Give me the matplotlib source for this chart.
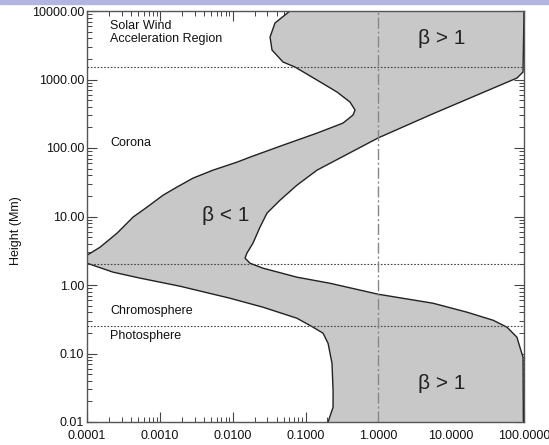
import numpy as np
import matplotlib
matplotlib.use("Agg")
from matplotlib import pyplot as plt
from matplotlib.patches import Rectangle
from matplotlib.ticker import FixedLocator, FixedFormatter, LogLocator, NullFormatter

plt.rcParams['font.family'] = ['Liberation Sans', 'DejaVu Sans']

# left (low beta) boundary, read top to bottom
h_left = [10000, 6680, 4170, 2690, 1800, 1520, 981, 656, 469, 358, 303, 231, 165, 110,
          73.6, 62.2, 47.5, 36.3, 26.9, 20.5, 13.7, 9.8, 5.7, 3.56, 2.72, 2.38, 2.08,
          1.54, 1.26, 0.96, 0.641, 0.474, 0.327, 0.242, 0.198, 0.141, 0.0721, 0.029,
          0.0164, 0.01]
beta_left = [0.0612, 0.0381, 0.0326, 0.0347, 0.0491, 0.0718, 0.144, 0.271, 0.408, 0.479,
             0.449, 0.327, 0.144, 0.0491, 0.0173, 0.0115, 0.00537, 0.00285, 0.00172,
             0.00111, 0.000667, 0.000429, 0.000258, 0.000151, 0.0001, 0.000068, 0.0001,
             0.000228, 0.000535, 0.00189, 0.00918, 0.0261, 0.0764, 0.127, 0.174, 0.204,
             0.231, 0.239, 0.239, 0.204]

# right (high beta) boundary, read top to bottom
h_right = [10000, 1285, 1050, 303, 140, 47.5, 28.7, 17.3, 11.2, 6.98, 4.08, 2.92, 2.47,
           2.08, 1.76, 1.30, 1.06, 0.734, 0.542, 0.401, 0.306, 0.242, 0.173, 0.123,
           0.088, 0.01]
beta_right = [100, 97, 80, 5.13, 0.99, 0.144, 0.0764, 0.0447, 0.0296, 0.0237, 0.019,
              0.0157, 0.0148, 0.0173, 0.0261, 0.0764, 0.217, 0.99, 5.63, 16.5, 37.6,
              58.5, 80, 88, 97, 98]

region_bounds = [1500, 2, 0.25]

xticks = [1e-4, 1e-3, 1e-2, 1e-1, 1, 10, 100]
xtick_labels = ["0.0001", "0.0010", "0.0100", "0.1000", "1.0000", "10.0000", "100.0000"]
yticks = [0.01, 0.1, 1, 10, 100, 1000, 10000]
ytick_labels = ["0.01", "0.10", "1.00", "10.00", "100.00", "1000.00", "10000.00"]

fig = plt.figure(figsize=(5.49, 4.45), dpi=100)
fig.patches.append(Rectangle((0, 1 - 4 / 445), 1, 4 / 445, transform=fig.transFigure,
                             color="#b4b4e2", zorder=0))
ax = fig.add_axes([87 / 549, 1 - 422 / 445, 437 / 549, 411 / 445])

# shaded band between the two boundaries
poly_x = beta_left + beta_right[::-1]
poly_y = h_left + h_right[::-1]
ax.fill(poly_x, poly_y, color="#c8c8c8", zorder=2, linewidth=0)
ax.plot(beta_left, h_left, color="#222222", linewidth=1, zorder=3)
ax.plot(beta_right, h_right, color="#222222", linewidth=1, zorder=3)

for hb in region_bounds:
    ax.axhline(hb, color="#444444", linestyle=(0, (1.5, 1.5)), linewidth=0.8, zorder=3)
ax.axvline(1.0, color="#888888", linestyle=(0, (8, 2, 1.5, 2)), linewidth=1, zorder=3)

ax.set_xscale("log")
ax.set_yscale("log")
ax.set_xlim(1e-4, 100)
ax.set_ylim(0.01, 10000)

ax.xaxis.set_major_locator(FixedLocator(xticks))
ax.xaxis.set_major_formatter(FixedFormatter(xtick_labels))
ax.yaxis.set_major_locator(FixedLocator(yticks))
ax.yaxis.set_major_formatter(FixedFormatter(ytick_labels))
ax.xaxis.set_minor_locator(LogLocator(base=10, subs=np.arange(2, 10), numticks=20))
ax.yaxis.set_minor_locator(LogLocator(base=10, subs=np.arange(2, 10), numticks=20))
ax.xaxis.set_minor_formatter(NullFormatter())
ax.yaxis.set_minor_formatter(NullFormatter())
ax.tick_params(which="both", direction="in", top=True, right=True, color="#444444",
               labelsize=9, labelcolor="#111111")
ax.tick_params(which="major", length=7, width=0.8)
ax.tick_params(which="minor", length=3.5, width=0.7)
ax.tick_params(axis="y", pad=2)
ax.tick_params(axis="x", pad=5.5)
for s in ax.spines.values():
    s.set_color("#555555")
    s.set_linewidth(1)
    s.set_zorder(4)

ax.set_ylabel("Height (Mm)", fontsize=9, color="#111111")
ax.yaxis.set_label_coords(-0.148, 0.465)

ax.text(2.1e-4, 4900, "Solar Wind\nAcceleration Region", fontsize=9, ha="left",
        va="center", linespacing=1.15, color="#111111")
ax.text(2.1e-4, 118, "Corona", fontsize=9, ha="left", va="center", color="#111111")
ax.text(2.1e-4, 0.414, "Chromosphere", fontsize=9, ha="left", va="center", color="#111111")
ax.text(2.1e-4, 0.18, "Photosphere", fontsize=9, ha="left", va="center", color="#111111")
ax.text(0.0079, 10.5, "β < 1", fontsize=15, ha="center", va="center", color="#222222", zorder=5)
ax.text(7.5, 4030, "β > 1", fontsize=15, ha="center", va="center", color="#222222", zorder=5)
ax.text(7.5, 0.0367, "β > 1", fontsize=15, ha="center", va="center", color="#222222", zorder=5)

fig.savefig("out.png", dpi=100)
